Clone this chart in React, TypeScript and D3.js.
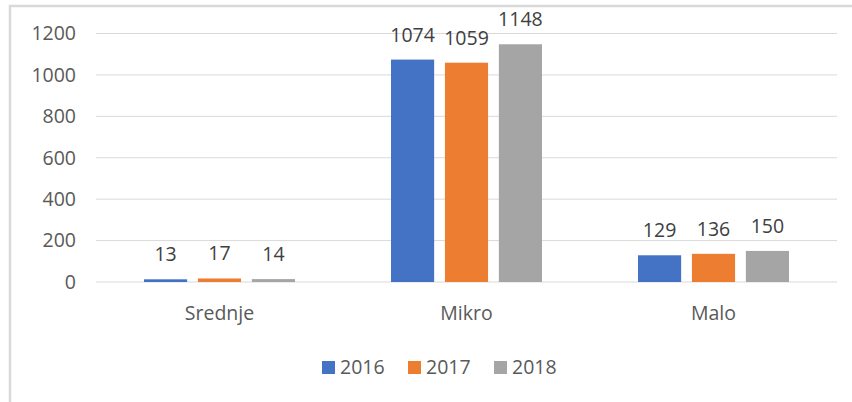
import { useEffect, useRef } from 'react';
import * as d3 from 'd3';

const categories = ['Srednje', 'Mikro', 'Malo'];
const years = ['2016', '2017', '2018'];
const values2016 = [13, 1074, 129];
const values2017 = [17, 1059, 136];
const values2018 = [14, 1148, 150];
const yTicks = [0, 200, 400, 600, 800, 1000, 1200];
const colors = ['#4472c4', '#ed7d31', '#a5a5a5'];

export default function App() {
  const svgRef = useRef<SVGSVGElement>(null);

  useEffect(() => {
    if (!svgRef.current) return;
    const svg = d3.select(svgRef.current);
    svg.selectAll('*').remove();

    const series = [values2016, values2017, values2018];
    const font = '"Open Sans", sans-serif';
    const textColor = '#595959';
    const fs = '19.5px';

    // chart border
    svg.append('rect')
      .attr('x', 10)
      .attr('y', 6)
      .attr('width', 860)
      .attr('height', 420)
      .attr('fill', '#fff')
      .attr('stroke', '#d9d9d9')
      .attr('stroke-width', 2.5);

    const left = 96;
    const right = 837;
    const yScale = d3.scaleLinear().domain([0, 1200]).range([282, 33.5]);

    const x0 = d3.scaleBand<string>().domain(categories).range([left, right]);
    const x1 = d3.scaleBand<string>()
      .domain(years)
      .range([48, x0.bandwidth() - 48])
      .paddingInner(0.2);

    // gridlines
    svg.append('g')
      .selectAll('line')
      .data(yTicks)
      .join('line')
      .attr('x1', left)
      .attr('x2', right)
      .attr('y1', d => yScale(d))
      .attr('y2', d => yScale(d))
      .attr('stroke', '#d9d9d9')
      .attr('stroke-width', 1);

    // y tick labels
    svg.append('g')
      .selectAll('text')
      .data(yTicks)
      .join('text')
      .attr('x', 76)
      .attr('y', d => yScale(d))
      .attr('dy', '0.35em')
      .attr('text-anchor', 'end')
      .attr('font-family', font)
      .attr('font-size', fs)
      .attr('fill', textColor)
      .text(d => d);

    // bars + labels
    years.forEach((yr, si) => {
      const g = svg.append('g');
      g.selectAll('rect')
        .data(series[si])
        .join('rect')
        .attr('x', (_, i) => (x0(categories[i]) ?? 0) + (x1(yr) ?? 0))
        .attr('y', d => yScale(d))
        .attr('width', x1.bandwidth())
        .attr('height', d => yScale(0) - yScale(d))
        .attr('fill', colors[si]);

      g.selectAll('text')
        .data(series[si])
        .join('text')
        .attr('x', (_, i) => (x0(categories[i]) ?? 0) + (x1(yr) ?? 0) + x1.bandwidth() / 2)
        .attr('y', d => yScale(d) - 18)
        .attr('text-anchor', 'middle')
        .attr('font-family', font)
        .attr('font-size', fs)
        .attr('fill', '#404040')
        .text(d => d);
    });

    // category labels
    svg.append('g')
      .selectAll('text')
      .data(categories)
      .join('text')
      .attr('x', d => (x0(d) ?? 0) + x0.bandwidth() / 2)
      .attr('y', 320)
      .attr('text-anchor', 'middle')
      .attr('font-family', font)
      .attr('font-size', fs)
      .attr('fill', textColor)
      .text(d => d);

    // legend
    const legendX = [322, 408, 494];
    years.forEach((yr, i) => {
      svg.append('rect')
        .attr('x', legendX[i])
        .attr('y', 361)
        .attr('width', 13)
        .attr('height', 13)
        .attr('fill', colors[i]);
      svg.append('text')
        .attr('x', legendX[i] + 18)
        .attr('y', 374)
        .attr('font-family', font)
        .attr('font-size', fs)
        .attr('fill', textColor)
        .text(yr);
    });
  }, []);

  return (
    <div style={{ position: 'absolute', left: 0, top: 0 }}>
      <svg ref={svgRef} width={852} height={402} style={{ display: 'block' }} />
    </div>
  );
}
